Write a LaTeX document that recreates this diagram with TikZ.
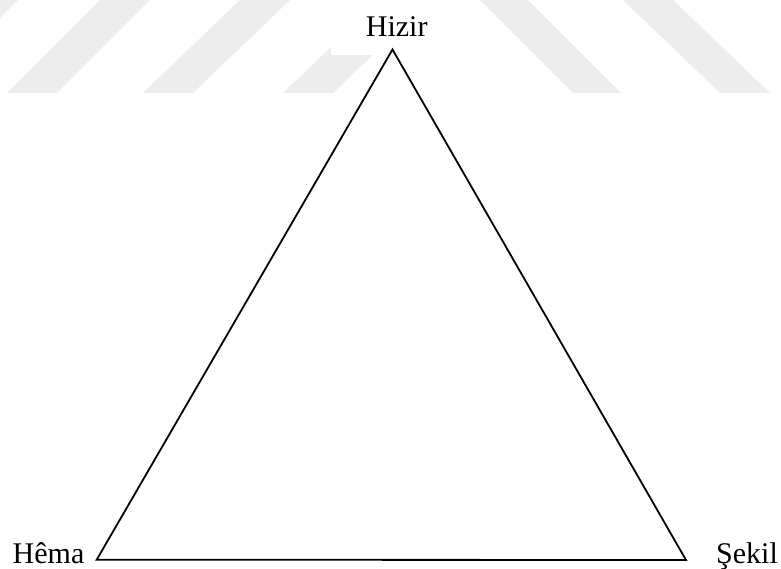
\documentclass[tikz,border=0pt]{standalone}
\usepackage{fontspec}
\setmainfont{Liberation Serif}
\begin{document}
\begin{tikzpicture}[x=1pt,y=-1pt,
  stripe/.style={fill=black!7,draw=none},
  lbl/.style={inner sep=0pt,anchor=base,font=\fontsize{30}{30}\selectfont},
  edge/.style={line width=1.8pt,line join=miter}]
\useasboundingbox (0,0) rectangle (781,569);
\begin{scope}
\clip (0,0) rectangle (781,569);
\fill[stripe] (-35,0) -- (18,0) -- (-75,93) -- (-128,93) -- cycle;
\fill[stripe] (100,0) -- (150,0) -- (57,93) -- (7,93) -- cycle;
\fill[stripe] (240,0) -- (290,0) -- (193,93) -- (143,93) -- cycle;
\fill[stripe] (380,0) -- (430,0) -- (333,93) -- (283,93) -- cycle;
\fill[stripe] (480,0) -- (528,0) -- (621,93) -- (573,93) -- cycle;
\fill[stripe] (623,0) -- (673,0) -- (770,93) -- (720,93) -- cycle;
\end{scope}
\fill[white] (331,0) rectangle (460,55);
\coordinate (A) at (392.5,49.5);
\coordinate (B) at (96.7,559.7);
\coordinate (C) at (686,560);
\draw[edge] (A) -- (B) -- (C) -- cycle;
\node[lbl] (hizir) at (396.7,36.5) {Hizir};
\node[lbl] (hema) at (48.5,563.5) {Hêma};
\node[lbl] (sekil) at (747,563.5) {Şekil};
\end{tikzpicture}
\end{document}
